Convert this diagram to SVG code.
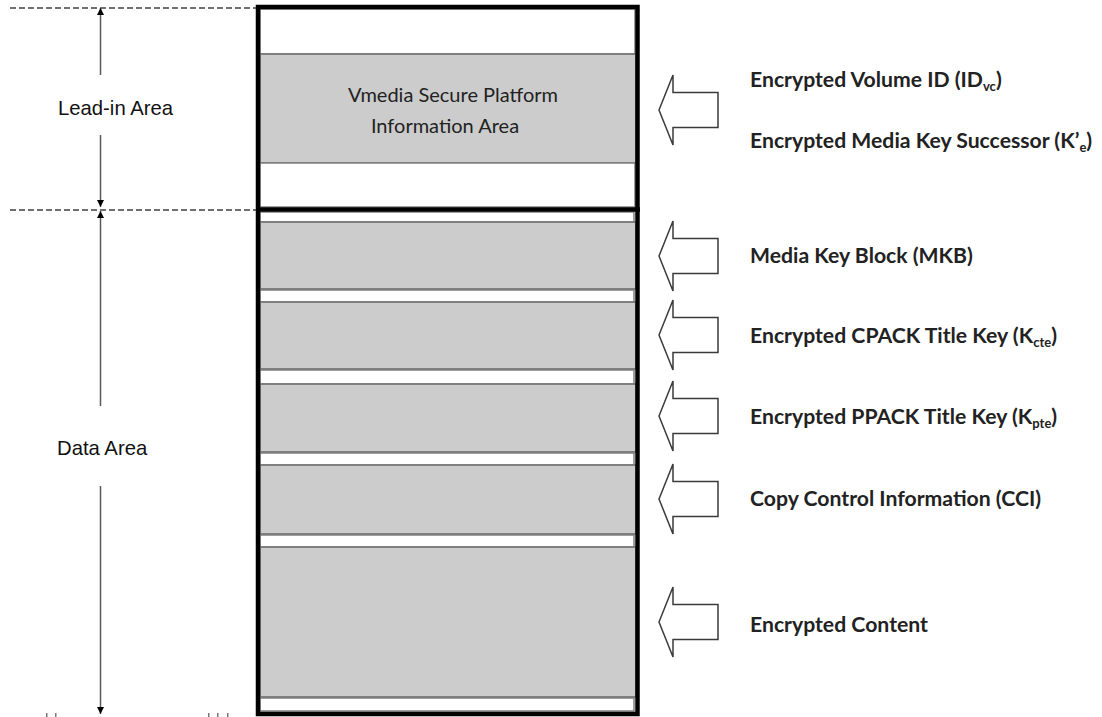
<svg xmlns="http://www.w3.org/2000/svg" xmlns:xlink="http://www.w3.org/1999/xlink" width="1102" height="717" viewBox="0 0 1102 717">
<style>
.gray{fill:#cccccc;stroke:#7f7f7f;stroke-width:2}
.white{fill:#ffffff;stroke:#7f7f7f;stroke-width:1.5}
.frame{fill:none;stroke:#000;stroke-width:4.5}
.dash{stroke:#404040;stroke-width:1.5;stroke-dasharray:6 3;fill:none}
.dim{stroke:#595959;stroke-width:1.5;fill:none}
.barrow{fill:#fff;stroke:#3a3a3a;stroke-width:1.5;stroke-linejoin:miter}
.lbl{font-family:"Liberation Sans",Arial,sans-serif;font-size:20.3px;fill:#111}
.ctr{font-family:Lato,"Open Sans",sans-serif;font-size:20px;fill:#222;text-anchor:middle}
.rl{font-family:Lato,"Open Sans",sans-serif;font-weight:700;font-size:21.2px;fill:#222}
.sub{font-size:13px}
</style>
<defs>
<path id="ba" class="barrow" d="M0,0 L14,-35 L14,-17.5 L59,-17.5 L59,17.5 L14,17.5 L14,35 Z"/>
<marker id="ah" viewBox="0 0 10 10" refX="10" refY="5" markerWidth="7" markerHeight="7" orient="auto" markerUnits="userSpaceOnUse">
<path d="M0,0 L10,5 L0,10 Z" fill="#000"/>
</marker>
</defs>

<g id="disc">
<g id="leadin-rows">
<rect class="white" x="260" y="9" width="375" height="45"/>
<rect id="vmedia-area" class="gray" x="260" y="54" width="376" height="109"/>
<rect class="white" x="260" y="163" width="375" height="44"/>
<text class="ctr" x="453" y="102">Vmedia Secure Platform</text>
<text class="ctr" x="445" y="133">Information Area</text>
</g>
<g id="data-rows">
<rect class="white" x="260" y="212" width="374" height="10"/>
<rect id="mkb-area" class="gray" x="260" y="222" width="376" height="67"/>
<rect class="white" x="260" y="290" width="374" height="12"/>
<rect id="cpack-area" class="gray" x="260" y="302" width="376" height="67"/>
<rect class="white" x="260" y="370" width="374" height="14"/>
<rect id="ppack-area" class="gray" x="260" y="384" width="376" height="68"/>
<rect class="white" x="260" y="453" width="374" height="12"/>
<rect id="cci-area" class="gray" x="260" y="465" width="376" height="69"/>
<rect class="white" x="260" y="535" width="374" height="12"/>
<rect id="content-area" class="gray" x="260" y="547" width="376" height="150"/>
<rect class="white" x="260" y="698" width="374" height="13"/>
</g>
<g id="frame">
<rect class="frame" x="258" y="7" width="379.5" height="707"/>
<line x1="256" y1="209.5" x2="640" y2="209.5" stroke="#000" stroke-width="4.5"/>
</g>
</g>

<g id="left-labels">
<g id="leadin-label"><text class="lbl" x="58" y="115">Lead-in Area</text></g>
<g id="data-label"><text class="lbl" x="57" y="455">Data Area</text></g>
</g>

<g id="connectors">
<line class="dash" x1="10" y1="8" x2="256" y2="8"/>
<line class="dash" x1="10" y1="210" x2="256" y2="210"/>
<line class="dim" x1="100.5" y1="75" x2="100.5" y2="8" marker-end="url(#ah)"/>
<line class="dim" x1="100.5" y1="135" x2="100.5" y2="207" marker-end="url(#ah)"/>
<line class="dim" x1="100.5" y1="406" x2="100.5" y2="211" marker-end="url(#ah)"/>
<line class="dim" x1="100.5" y1="486" x2="100.5" y2="714" marker-end="url(#ah)"/>
<g fill="#7a7a7a">
<rect x="46" y="713" width="1.5" height="4"/>
<rect x="55" y="713" width="1.5" height="4"/>
<rect x="208" y="713" width="1.5" height="4"/>
<rect x="217" y="713" width="1.5" height="4"/>
<rect x="227" y="713" width="1.5" height="4"/>
</g>
<use href="#ba" x="659" y="110"/>
<use href="#ba" x="659" y="256"/>
<use href="#ba" x="659" y="335"/>
<use href="#ba" x="659" y="416"/>
<use href="#ba" x="659" y="499"/>
<use href="#ba" x="659" y="622"/>
</g>

<g id="right-labels">
<g id="lbl-volid"><text class="rl" x="750" y="87">Encrypted Volume ID (ID<tspan class="sub" dy="4">vc</tspan><tspan dy="-4">)</tspan></text></g>
<g id="lbl-mks"><text class="rl" x="750" y="148">Encrypted Media Key Successor (K’<tspan class="sub" dy="4">e</tspan><tspan dy="-4">)</tspan></text></g>
<g id="lbl-mkb"><text class="rl" x="750" y="263">Media Key Block (MKB)</text></g>
<g id="lbl-cpack"><text class="rl" x="750" y="343">Encrypted CPACK Title Key (K<tspan class="sub" dy="4">cte</tspan><tspan dy="-4">)</tspan></text></g>
<g id="lbl-ppack"><text class="rl" x="750" y="424">Encrypted PPACK Title Key (K<tspan class="sub" dy="4">pte</tspan><tspan dy="-4">)</tspan></text></g>
<g id="lbl-cci"><text class="rl" x="750" y="506">Copy Control Information (CCI)</text></g>
<g id="lbl-content"><text class="rl" x="750" y="632">Encrypted Content</text></g>
</g>
</svg>
